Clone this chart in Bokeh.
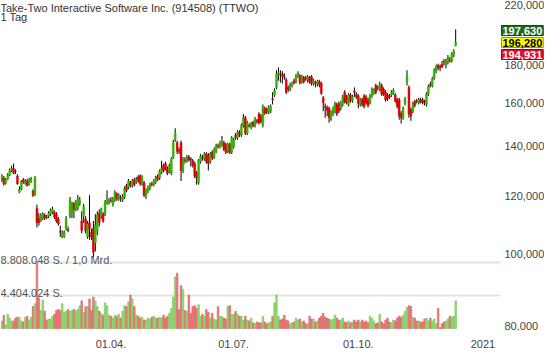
from bokeh.plotting import figure
from bokeh.models import Range1d, FixedTicker, Label, ColumnDataSource, LinearScale
from bokeh.embed import file_html
from bokeh.resources import INLINE

title_text = "Take-Two Interactive Software Inc. (914508) (TTWO)"
interval_text = "1 Tag"

opens = [126.0, 126.8, 124.9, 126.4, 127.9, 129.8, 130.6, 129.5, 127.6, 121.3,
         122.7, 126.0, 124.5, 125.6, 124.2, 125.6, 121.7, 120.2, 115.3, 111.9,
         111.2, 111.9, 113.0, 112.3, 112.6, 113.3, 114.0, 114.0, 113.3, 111.6,
         107.4, 105.5, 105.8, 108.3, 108.0, 112.6, 113.6, 117.0, 115.0, 115.3,
         117.0, 110.9, 112.6, 111.6, 105.5, 110.3, 107.1, 108.3, 103.6, 107.7,
         113.6, 112.6, 113.3, 113.3, 117.0, 117.4, 118.4, 116.7, 118.4, 120.6,
         118.8, 119.1, 118.4, 119.5, 123.8, 123.1, 124.9, 123.8, 126.0, 125.3,
         127.2, 127.6, 124.5, 124.9, 119.9, 121.7, 122.7, 124.5, 124.2, 125.3,
         127.6, 126.8, 129.1, 131.8, 132.6, 130.6, 129.5, 128.7, 135.3, 142.8,
         141.5, 138.2, 141.5, 129.8, 134.1, 133.8, 135.3, 134.5, 133.8, 132.6,
         128.7, 124.9, 133.4, 135.3, 134.5, 136.6, 136.2, 133.4, 137.4, 135.3,
         137.8, 140.3, 139.8, 140.7, 141.5, 140.7, 137.8, 140.7, 137.4, 139.8,
         144.9, 143.7, 146.2, 144.9, 149.3, 152.9, 145.8, 149.3, 148.4, 150.6,
         149.3, 151.5, 154.7, 153.8, 149.3, 157.5, 157.0, 155.6, 156.1, 162.2,
         164.2, 168.1, 174.7, 175.2, 175.2, 174.2, 172.1, 168.1, 167.1, 169.1,
         171.6, 171.1, 174.2, 174.2, 171.1, 173.2, 173.2, 172.1, 173.2, 173.7,
         170.1, 170.6, 169.6, 171.1, 170.1, 162.7, 158.4, 157.9, 157.5, 152.4,
         154.7, 156.1, 159.4, 159.9, 157.5, 159.4, 165.6, 163.2, 159.4, 164.2,
         161.2, 166.1, 164.6, 163.7, 159.4, 161.7, 163.7, 163.2, 161.7, 160.3,
         163.7, 165.1, 169.1, 168.1, 167.1, 169.1, 167.1, 165.6, 164.2, 163.7,
         164.2, 165.1, 164.2, 161.7, 161.7, 155.2, 152.9, 159.9, 171.1, 168.1,
         157.0, 156.1, 160.8, 161.2, 160.3, 161.7, 161.7, 160.8, 159.4, 164.6,
         169.6, 169.1, 173.2, 176.8, 180.0, 179.4, 180.5, 182.1, 180.5, 181.6,
         183.2, 182.6, 185.9, 191.5]

closes = [127.6, 124.5, 126.0, 127.9, 129.8, 130.6, 128.7, 129.3, 124.5, 122.4,
          125.3, 125.1, 125.6, 123.8, 126.0, 126.4, 120.2, 126.8, 110.3, 110.3,
          112.6, 113.3, 111.9, 112.1, 113.6, 114.6, 115.0, 112.3, 110.9, 109.9,
          107.1, 106.7, 107.1, 111.6, 107.7, 118.4, 117.0, 115.0, 117.7, 118.8,
          118.4, 107.7, 116.0, 107.7, 109.9, 108.3, 105.5, 100.6, 109.3, 113.0,
          110.3, 115.0, 110.9, 117.7, 118.4, 118.1, 118.1, 118.8, 121.3, 118.8,
          120.2, 118.8, 119.5, 122.7, 122.0, 125.6, 123.8, 125.6, 124.2, 126.4,
          125.6, 124.5, 127.2, 120.2, 122.0, 123.1, 124.2, 124.2, 125.6, 126.8,
          126.4, 129.5, 130.6, 129.8, 130.6, 128.7, 131.8, 134.5, 141.5, 145.8,
          137.8, 137.8, 129.8, 133.8, 133.9, 135.3, 134.1, 134.1, 131.8, 127.6,
          126.8, 133.8, 135.7, 134.9, 136.6, 133.4, 132.6, 136.6, 134.9, 138.6,
          140.3, 139.8, 141.5, 141.9, 138.6, 137.4, 140.7, 137.4, 143.7, 142.8,
          143.7, 146.2, 144.9, 149.3, 152.9, 145.8, 150.6, 148.9, 150.2, 149.3,
          152.4, 151.0, 150.6, 151.0, 158.4, 155.2, 155.6, 157.9, 158.4, 161.7,
          166.6, 175.2, 175.7, 174.9, 174.2, 173.7, 165.6, 167.1, 169.6, 170.1,
          170.6, 174.2, 175.7, 170.6, 173.7, 171.1, 172.7, 173.7, 171.1, 170.1,
          171.6, 170.1, 171.1, 169.6, 165.1, 160.3, 157.9, 156.5, 152.9, 155.6,
          157.5, 159.9, 154.7, 156.1, 160.3, 163.2, 160.8, 160.3, 164.2, 161.2,
          163.2, 165.6, 163.2, 159.9, 161.7, 159.4, 158.4, 160.3, 158.9, 163.7,
          167.1, 166.6, 165.6, 167.6, 169.6, 164.6, 164.6, 161.7, 162.2, 163.2,
          165.6, 166.6, 161.2, 158.4, 153.8, 152.9, 157.5, 162.2, 174.2, 154.7,
          153.8, 159.9, 158.9, 160.8, 161.7, 160.8, 160.3, 160.3, 164.6, 168.6,
          169.1, 172.7, 177.3, 179.4, 178.4, 178.9, 179.4, 181.6, 182.6, 184.8,
          182.6, 186.5, 188.2, 193.3]

highs = [128.3, 127.6, 126.8, 128.7, 130.6, 131.8, 132.6, 130.2, 128.3, 123.5,
         126.0, 126.8, 126.4, 126.4, 126.8, 127.2, 122.4, 127.6, 116.7, 113.6,
         113.6, 114.0, 113.6, 113.0, 114.3, 115.3, 116.0, 114.6, 114.0, 112.3,
         109.3, 107.7, 107.7, 112.6, 109.0, 119.5, 117.7, 117.7, 118.4, 120.2,
         119.5, 114.3, 117.0, 112.6, 110.9, 120.2, 108.3, 110.9, 113.3, 114.3,
         115.0, 115.6, 114.0, 118.4, 122.0, 119.1, 119.5, 119.5, 122.0, 121.3,
         120.9, 120.2, 120.6, 123.5, 124.5, 126.4, 125.6, 126.4, 126.8, 127.2,
         127.9, 128.3, 127.9, 125.6, 122.7, 123.8, 124.9, 125.3, 126.4, 127.6,
         128.3, 130.2, 133.8, 132.6, 133.4, 131.4, 132.6, 135.3, 142.8, 148.0,
         142.4, 139.4, 142.4, 135.3, 135.3, 136.2, 136.2, 135.3, 134.5, 133.4,
         129.5, 134.5, 136.6, 136.2, 137.4, 137.4, 137.0, 137.4, 138.2, 139.4,
         141.1, 141.1, 142.4, 144.5, 142.4, 141.5, 141.5, 141.5, 144.5, 143.7,
         145.8, 147.1, 147.1, 150.2, 154.7, 153.8, 151.5, 150.2, 151.0, 151.5,
         153.3, 152.4, 155.6, 154.7, 159.4, 158.4, 157.9, 158.9, 159.4, 165.6,
         167.6, 177.3, 178.9, 177.3, 176.8, 175.7, 173.2, 169.1, 170.6, 171.1,
         172.7, 175.2, 176.8, 175.2, 174.7, 174.2, 174.2, 174.7, 174.2, 174.7,
         172.7, 171.6, 172.1, 172.1, 171.1, 163.7, 159.9, 158.9, 158.4, 156.5,
         158.4, 160.8, 160.3, 160.8, 161.2, 164.2, 166.6, 164.2, 165.1, 165.1,
         164.2, 168.1, 165.6, 164.6, 162.7, 162.7, 164.6, 164.2, 162.7, 164.6,
         168.1, 167.6, 170.1, 169.1, 171.1, 170.1, 168.1, 166.6, 165.1, 164.6,
         166.6, 167.6, 165.1, 162.7, 162.7, 156.1, 158.4, 163.2, 177.3, 169.1,
         157.9, 160.8, 161.7, 162.2, 162.7, 162.7, 162.7, 161.7, 165.6, 169.6,
         171.1, 173.7, 178.4, 180.5, 181.0, 180.5, 182.6, 183.7, 183.7, 185.9,
         184.8, 187.6, 189.3, 201.4]

lows = [125.3, 123.8, 124.2, 126.0, 127.6, 129.1, 128.3, 128.3, 124.2, 120.9,
        122.0, 124.5, 124.2, 123.5, 123.8, 124.9, 119.5, 119.9, 108.7, 109.3,
        110.6, 111.2, 111.2, 111.6, 111.9, 112.6, 113.3, 111.6, 110.3, 109.3,
        105.5, 105.2, 105.2, 107.7, 107.1, 111.9, 111.9, 111.9, 114.3, 114.6,
        116.3, 106.7, 110.3, 106.7, 104.9, 104.6, 104.6, 99.1, 100.9, 106.1,
        109.0, 111.6, 110.3, 112.6, 116.7, 116.7, 117.4, 116.0, 117.7, 118.1,
        118.1, 117.7, 117.7, 118.8, 121.3, 122.4, 123.1, 123.1, 123.5, 124.5,
        124.9, 123.8, 123.8, 119.5, 118.8, 120.9, 122.0, 123.5, 123.5, 124.5,
        125.6, 126.0, 128.3, 129.1, 129.8, 127.9, 128.7, 127.9, 134.5, 141.9,
        136.6, 136.6, 125.6, 128.7, 132.6, 133.0, 133.4, 131.4, 131.0, 126.8,
        124.2, 124.2, 132.6, 133.8, 133.8, 132.6, 129.8, 132.6, 134.1, 134.5,
        137.0, 139.0, 139.0, 139.8, 137.8, 136.6, 137.0, 136.6, 136.6, 139.0,
        142.8, 142.8, 144.1, 144.1, 148.4, 144.9, 144.9, 148.4, 147.5, 148.4,
        148.4, 150.2, 149.7, 150.2, 148.4, 154.3, 154.7, 154.7, 155.2, 159.4,
        163.2, 167.1, 171.6, 170.6, 170.1, 172.1, 164.6, 165.6, 166.1, 168.1,
        169.6, 170.1, 173.2, 169.6, 170.1, 170.1, 171.6, 170.6, 170.1, 169.1,
        169.1, 168.1, 168.6, 168.1, 164.2, 156.1, 152.9, 153.8, 150.6, 151.5,
        153.8, 155.2, 153.8, 155.2, 156.5, 158.4, 159.9, 159.4, 158.4, 160.3,
        160.3, 163.2, 162.2, 157.5, 158.4, 158.4, 157.5, 159.4, 157.9, 159.4,
        162.7, 164.2, 164.6, 166.6, 166.1, 163.7, 163.7, 160.8, 161.2, 162.2,
        163.2, 164.2, 160.3, 157.5, 152.0, 150.2, 152.0, 158.9, 169.1, 152.9,
        151.5, 155.2, 157.9, 159.9, 159.4, 159.9, 159.4, 158.9, 158.4, 163.7,
        168.1, 168.1, 172.1, 175.7, 177.3, 176.8, 178.4, 179.9, 178.4, 180.5,
        181.6, 181.6, 184.8, 191.0]

# volume in millions of shares
volumes = [1.02, 1.79, 0.51, 1.91, 1.40, 1.02, 1.02, 1.40, 1.53, 1.53,
           1.02, 0.89, 1.53, 1.66, 1.15, 1.53, 2.94, 3.32, 8.808048, 4.09,
           2.43, 3.83, 2.30, 1.15, 1.28, 1.28, 1.66, 1.91, 2.43, 2.55,
           2.43, 3.32, 2.17, 2.30, 2.55, 2.30, 2.43, 2.55, 2.43, 2.55,
           3.06, 3.70, 2.17, 2.94, 2.94, 3.96, 2.43, 4.21, 3.70, 2.94,
           2.30, 2.04, 1.79, 3.45, 3.06, 1.79, 1.66, 1.40, 1.79, 1.66,
           1.91, 1.40, 2.30, 3.06, 2.94, 3.57, 4.47, 3.96, 2.94, 1.79,
           1.66, 1.40, 1.53, 1.15, 1.15, 1.40, 1.28, 1.53, 1.66, 1.40,
           1.40, 1.53, 1.40, 1.79, 1.40, 1.66, 2.04, 2.68, 4.21, 6.89,
           7.40, 2.55, 5.74, 5.23, 2.43, 2.30, 4.47, 2.04, 2.94, 3.06,
           2.68, 3.19, 1.66, 1.91, 1.66, 2.55, 2.17, 1.40, 2.04, 1.28,
           1.15, 2.94, 1.66, 1.66, 1.40, 1.28, 2.94, 3.06, 1.91, 1.91,
           2.30, 1.91, 1.66, 1.66, 1.15, 1.66, 1.15, 1.02, 1.40, 0.77,
           0.64, 0.89, 0.77, 0.77, 1.66, 0.89, 0.64, 0.77, 0.89, 1.66,
           3.45, 4.47, 1.66, 1.15, 1.28, 1.79, 1.15, 1.02, 0.64, 0.77,
           0.89, 1.40, 1.15, 1.28, 0.89, 1.02, 0.64, 0.64, 1.66, 1.28,
           1.28, 0.89, 1.02, 1.40, 1.66, 2.04, 1.53, 1.40, 1.28, 1.15,
           1.28, 1.79, 1.40, 1.15, 1.15, 1.40, 0.89, 0.77, 1.02, 0.77,
           0.89, 1.15, 0.89, 1.15, 0.89, 1.15, 0.89, 1.02, 0.77, 1.66,
           1.40, 1.02, 0.64, 0.77, 1.91, 0.89, 0.64, 1.15, 1.40, 0.89,
           0.77, 1.15, 1.02, 1.40, 1.66, 1.53, 1.79, 2.30, 2.81, 3.06,
           2.94, 1.53, 1.40, 1.02, 1.02, 0.89, 0.89, 1.28, 1.40, 1.02,
           1.40, 1.02, 1.28, 0.64, 2.68, 0.13, 0.64, 0.89, 1.02, 1.28,
           1.66, 1.53, 1.66, 3.70]

# trading-day index positions of the date ticks
x_ticks = [56, 119, 183, 247]
x_tick_labels = ["01.04.", "01.07.", "01.10.", "2021"]
y_ticks = [80, 100, 120, 140, 160, 180, 220]
y_tick_labels = ["80,000", "100,000", "120,000", "140,000", "160,000", "180,000", "220,000"]
box_texts = ["197,630", "196,280", "194,931"]
vol_top_text = "8.808.048 S. / 1,0 Mrd."
vol_mid_text = "4.404.024 S."

FONT = "Liberation Sans"
GREEN = "#33b400"
RED = "#dc0000"

n = len(closes)
xs = list(range(n))
up = [c >= o for o, c in zip(opens, closes)]
src = ColumnDataSource(dict(
    x=xs,
    open=opens, close=closes, high=highs, low=lows,
    top=[max(o, c) for o, c in zip(opens, closes)],
    bottom=[min(o, c) for o, c in zip(opens, closes)],
    color=[GREEN if u else RED for u in up],
    vol=volumes,
    vfill=["#93dd72" if u else "#ec7f7f" for u in up],
    vline=["#6cbf4c" if u else "#d05050" for u in up],
))

# layout: chart area ends at x_plot_end, the price scale column sits to its right
x_start, x_plot_end, x_end = -0.7, 256.0, 278.6
y_start, y_end = 78.87, 220.3
v_start, v_end = -0.255, 43.79

p = figure(frame_width=544, frame_height=330,
           x_range=Range1d(x_start, x_end), y_range=Range1d(y_start, y_end),
           y_axis_type="log", y_axis_location=None,
           output_backend="svg", toolbar_location=None,
           min_border_left=0, min_border_top=0, min_border_right=0, min_border_bottom=17)
p.extra_y_ranges = {"vol": Range1d(v_start, v_end)}
p.extra_y_scales = {"vol": LinearScale()}
p.grid.visible = False
p.outline_line_color = None
p.background_fill_color = "white"
p.border_fill_color = "white"

vmax = max(volumes)
levels = [vmax, vmax / 2]
p.segment(x0=[x_start] * 2, x1=[x_plot_end] * 2, y0=levels, y1=levels,
          y_range_name="vol", line_color="#e4e4e4", line_width=2)

p.vbar(x="x", top="vol", bottom=0, width=0.85, y_range_name="vol",
       fill_color="vfill", line_color="vline", line_width=0.5, source=src)

p.segment(x0="x", y0="high", x1="x", y1="low", line_color="black", line_width=1, source=src)
p.vbar(x="x", top="top", bottom="bottom", width=0.9, fill_color="color",
       line_color="color", line_width=0.6, source=src)

ax = p.xaxis[0]
ax.axis_line_color = None
ax.major_tick_line_color = None
ax.minor_tick_line_color = None
ax.major_label_text_font = FONT
ax.major_label_text_font_size = "11px"
ax.major_label_text_color = "#444444"
ax.ticker = FixedTicker(ticks=x_ticks)
ax.major_label_overrides = dict(zip(x_ticks, x_tick_labels))
ax.major_label_standoff = 3

# price scale labels (right column); the label at the top edge hangs below it
inner = [(t, s) for t, s in zip(y_ticks, y_tick_labels) if t < y_end * 0.99]
edge = [(t, s) for t, s in zip(y_ticks, y_tick_labels) if t >= y_end * 0.99]
for group, baseline, yoff in ((inner, "middle", 0), (edge, "top", 0)):
    if group:
        p.text(x=[x_plot_end] * len(group), y=[g[0] for g in group],
               text=[g[1] for g in group], x_offset=4, y_offset=yoff,
               text_align="left", text_baseline=baseline, text_font={"value": FONT},
               text_font_size="11px", text_color="#444444")

p.add_layout(Label(x=x_start, y=y_end, text=title_text, text_baseline="top",
                   y_offset=-1, text_font=FONT, text_font_size="11px", text_color="#333333"))
p.add_layout(Label(x=x_start, y=y_end, text=interval_text, text_baseline="top",
                   y_offset=-10, text_font=FONT, text_font_size="11px", text_color="#333333"))

p.add_layout(Label(x=x_start, y=vmax, y_range_name="vol", text=vol_top_text,
                   text_baseline="alphabetic", y_offset=3, text_font=FONT,
                   text_font_size="11px", text_color="#555555"))
p.add_layout(Label(x=x_start, y=vmax / 2, y_range_name="vol", text=vol_mid_text,
                   text_baseline="alphabetic", y_offset=3, text_font=FONT,
                   text_font_size="11px", text_color="#555555"))

box_styles = [("#1e6b1e", "#ffffff", "#0f4a0f", 12),
              ("#ffff00", "#000000", "#999900", 0),
              ("#e0102a", "#ffffff", "#a00010", -12)]
for txt, (bg, fg, bd, off) in zip(box_texts, box_styles):
    p.add_layout(Label(x=x_plot_end, y=closes[-1], x_offset=1, y_offset=off, text=txt,
                       text_align="left", text_baseline="middle",
                       text_font=FONT, text_font_size="11px", text_font_style="bold",
                       text_color=fg, background_fill_color=bg,
                       border_line_color=bd, border_line_width=1, padding=1))

open("out.html", "w").write(file_html(p, INLINE))
